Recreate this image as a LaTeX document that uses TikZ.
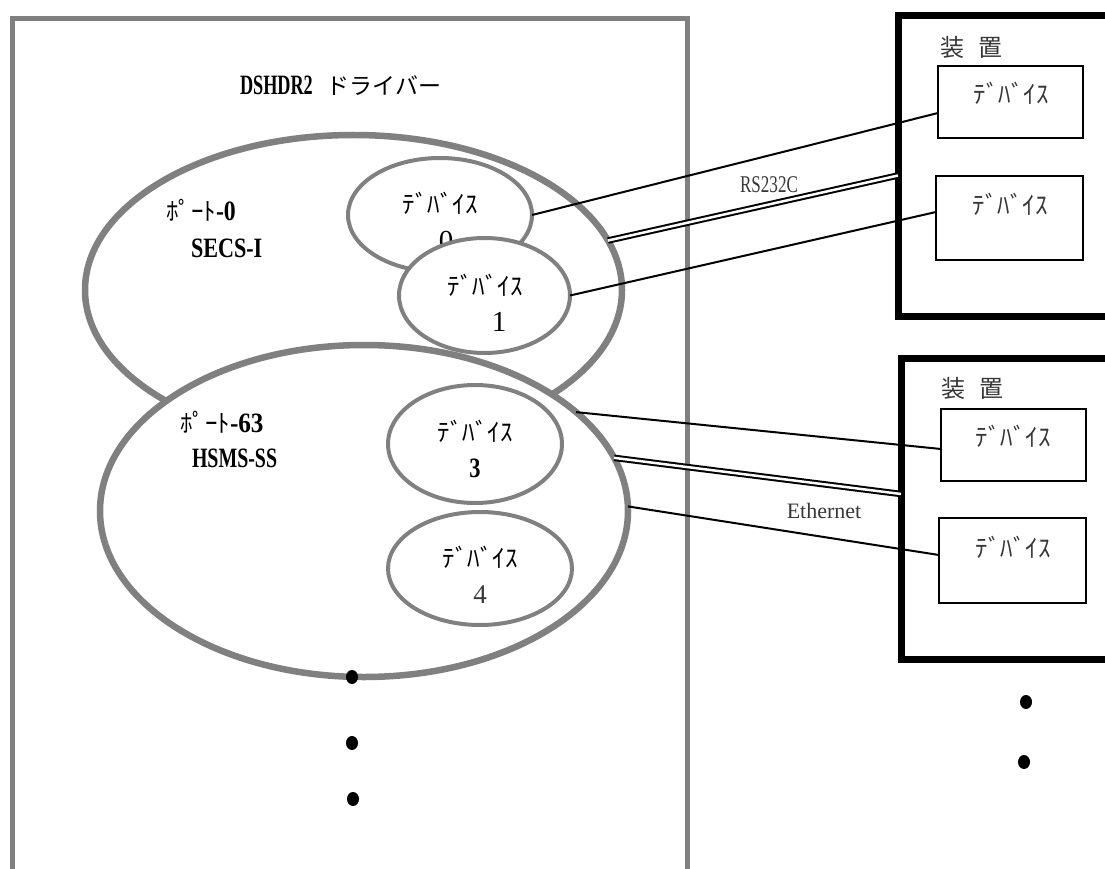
\documentclass[tikz,border=0pt]{standalone}
\usepackage{fontspec}
\usepackage{graphicx}
\usetikzlibrary{shapes.geometric}
\newfontfamily\jpfont{Noto Sans CJK JP}
\newfontfamily\lserif{Liberation Serif}
\newfontfamily\lserifb{Liberation Serif Bold}
\definecolor{framegray}{RGB}{128,128,128}
\definecolor{softblack}{RGB}{55,55,55}
% horizontally condensed text
\newcommand\narrow[2]{\scalebox{#1}[1]{#2}}
\newcommand\fs[1]{\fontsize{#1}{#1}\selectfont}

\tikzset{
  drvframe/.style={draw=framegray, line width=5pt, inner sep=0pt, outer sep=0pt},
  portell/.style={ellipse, draw=framegray, line width=6.5pt, fill=white, inner sep=0pt, outer sep=0pt},
  devell/.style={ellipse, draw=framegray, line width=4pt, fill=white, inner sep=0pt, outer sep=0pt},
  equipbox/.style={draw=black, line width=7pt, fill=white, inner sep=0pt, outer sep=0pt},
  devbox/.style={draw=black, line width=2pt, fill=white, inner sep=0pt, outer sep=0pt},
  wireline/.style={draw=black, line width=2pt},
  dblline/.style={draw=black, double=white, double distance=2.5pt, line width=2pt},
  txt/.style={inner sep=0pt, outer sep=0pt},
  devtxt/.style={txt, font=\jpfont\fs{25}},
  blackdot/.style={ellipse, fill=black, minimum width=12pt, minimum height=14pt, inner sep=0pt}
}

\begin{document}
\begin{tikzpicture}[x=1pt, y=-1pt]
\useasboundingbox (0,0) rectangle (1105,869);
\clip (0,0) rectangle (1105,869);

% driver frame (open at the bottom of the sheet)
\node[drvframe, minimum width=674.5pt, minimum height=880pt] (driver) at (349.75,459) {};
\node[txt, anchor=west] (title) at (240,86)
  {\fs{28}\narrow{0.65}{\lserifb DSHDR2}\hspace{14pt}{\jpfont\fs{23}ドライバー}};

% ports
\node[portell, minimum width=537pt, minimum height=310pt] (port0) at (353.5,290) {};
\node[portell, minimum width=528pt, minimum height=332pt] (port63) at (364,511) {};

\node[txt, anchor=west] (p0name) at (166,210) {{\jpfont\fs{25}ﾎﾟｰﾄ}{\lserifb\fs{28}\narrow{0.85}{-0}}};
\node[txt, anchor=west] (p0proto) at (191,248) {\lserifb\fs{28}\narrow{0.79}{SECS-I}};
\node[txt, anchor=west] (p63name) at (180,422) {{\jpfont\fs{25}ﾎﾟｰﾄ}{\lserifb\fs{28}\narrow{0.9}{-63}}};
\node[txt, anchor=west] (p63proto) at (192,458) {\lserifb\fs{28}\narrow{0.71}{HSMS-SS}};

% devices of port 0
\node[devell, minimum width=184pt, minimum height=114pt] (dev0) at (440,215) {};
\node[devtxt] (dev0t) at (440,203) {ﾃﾞﾊﾞｲｽ};
\node[txt, font=\lserif\fs{29}] (dev0n) at (446,241) {0};
\node[devell, minimum width=171pt, minimum height=115pt] (dev1) at (484.5,295.5) {};
\node[devtxt] (dev1t) at (485,285) {ﾃﾞﾊﾞｲｽ};
\node[txt, font=\lserif\fs{29}] (dev1n) at (499,322) {1};

% devices of port 63
\node[devell, minimum width=174pt, minimum height=118pt] (dev3) at (475,444) {};
\node[devtxt] (dev3t) at (475,431) {ﾃﾞﾊﾞｲｽ};
\node[txt, font=\lserifb\fs{28}] (dev3n) at (475,468) {\narrow{0.8}{3}};
\node[devell, minimum width=184pt, minimum height=113pt] (dev4) at (480,568.5) {};
\node[devtxt] (dev4t) at (480,557) {ﾃﾞﾊﾞｲｽ};
\node[txt, font=\lserif\fs{27}, text=softblack] (dev4n) at (480,595) {4};

% equipment
\node[equipbox, minimum width=227pt, minimum height=300pt] (eq1) at (1011.5,166) {};
\node[equipbox, minimum width=224pt, minimum height=301pt] (eq2) at (1013,508.5) {};
\node[txt, font=\jpfont\fs{24}, text=softblack] (eq1t) at (971,47) {装\hspace{14pt}置};
\node[txt, font=\jpfont\fs{24}, text=softblack] (eq2t) at (972,388) {装\hspace{14pt}置};

\node[devbox, minimum width=145pt, minimum height=72pt] (a1) at (1010.5,102) {};
\node[devbox, minimum width=147pt, minimum height=84pt] (a2) at (1009.5,218) {};
\node[devbox, minimum width=145pt, minimum height=72pt] (b1) at (1013.5,445) {};
\node[devbox, minimum width=147pt, minimum height=85pt] (b2) at (1012.5,560.5) {};
\node[devtxt, text=softblack] (a1t) at (1011,93) {ﾃﾞﾊﾞｲｽ};
\node[devtxt, text=softblack] (a2t) at (1010,204) {ﾃﾞﾊﾞｲｽ};
\node[devtxt, text=softblack] (b1t) at (1013,436) {ﾃﾞﾊﾞｲｽ};
\node[devtxt, text=softblack] (b2t) at (1013,547) {ﾃﾞﾊﾞｲｽ};

% connections
\draw[wireline] (dev0.east) -- ([yshift=-11pt]a1.west);
\draw[dblline] (port0.11) -- ([yshift=-9.5pt]eq1.west);
\draw[wireline] (dev1.east) -- ([yshift=6pt]a2.west);
\draw[wireline] (port63.25.6) -- ([yshift=-4pt]b1.west);
\draw[dblline] (port63.12) -- ([yshift=14.5pt]eq2.west);
\draw[wireline] (port63.1) -- ([yshift=5.5pt]b2.west);

\node[txt, font=\lserif\fs{24}, text=softblack] (rs) at (769,185) {\narrow{0.71}{RS232C}};
\node[txt, font=\lserif\fs{22}, text=softblack] (eth) at (824,511) {Ethernet};

% continuation marks
\node[blackdot] (d1) at (352,677) {};
\node[blackdot] (d2) at (352,743) {};
\node[blackdot] (d3) at (353,799) {};
\node[blackdot] (d4) at (1026,702) {};
\node[blackdot] (d5) at (1024,762) {};
\end{tikzpicture}
\end{document}
